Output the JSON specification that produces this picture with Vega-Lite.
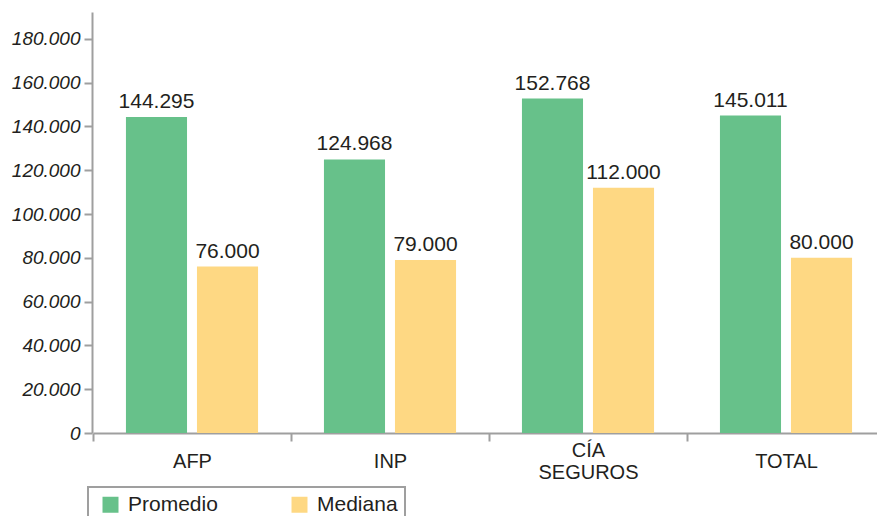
{
  "$schema": "https://vega.github.io/schema/vega-lite/v6.json",
  "autosize": "none",
  "width": 785,
  "height": 421,
  "padding": {"left": 92, "top": 12, "right": 0, "bottom": 83},
  "background": "white",
  "data": {
    "values": [
      {"grupo": "AFP", "serie": "Promedio", "monto": 144295, "etiqueta": "144.295"},
      {"grupo": "AFP", "serie": "Mediana", "monto": 76000, "etiqueta": "76.000"},
      {"grupo": "INP", "serie": "Promedio", "monto": 124968, "etiqueta": "124.968"},
      {"grupo": "INP", "serie": "Mediana", "monto": 79000, "etiqueta": "79.000"},
      {"grupo": "CÍA SEGUROS", "serie": "Promedio", "monto": 152768, "etiqueta": "152.768"},
      {"grupo": "CÍA SEGUROS", "serie": "Mediana", "monto": 112000, "etiqueta": "112.000"},
      {"grupo": "TOTAL", "serie": "Promedio", "monto": 145011, "etiqueta": "145.011"},
      {"grupo": "TOTAL", "serie": "Mediana", "monto": 80000, "etiqueta": "80.000"}
    ]
  },
  "encoding": {
    "x": {
      "field": "grupo",
      "type": "nominal",
      "sort": ["AFP", "INP", "CÍA SEGUROS", "TOTAL"],
      "scale": {"range": [1, 793], "paddingInner": 0, "paddingOuter": 0},
      "axis": {
        "title": null,
        "labelAngle": 0,
        "labelExpr": "indexof(datum.label, ' ') > 0 ? [split(datum.label, ' ')[0], '\u200b', split(datum.label, ' ')[1]] : ['\u200b', datum.label]",
        "labelBaseline": "middle",
        "labelLineHeight": 11,
        "labelPadding": 9,
        "labelFontSize": 20,
        "labelColor": "#231f20",
        "labelFont": "Liberation Sans",
        "tickBand": "extent",
        "tickSize": 8,
        "tickWidth": 2,
        "tickColor": "#9f9f9f",
        "domainColor": "#9f9f9f",
        "domainWidth": 2
      }
    },
    "xOffset": {
      "field": "serie",
      "type": "nominal",
      "sort": ["Promedio", "Mediana"],
      "scale": {"paddingInner": 0.14, "paddingOuter": 0.464}
    },
    "y": {
      "field": "monto",
      "type": "quantitative",
      "scale": {"domain": [0, 192300], "nice": false},
      "axis": {
        "title": null,
        "values": [0, 20000, 40000, 60000, 80000, 100000, 120000, 140000, 160000, 180000],
        "labelExpr": "replace(format(datum.value, ','), ',', '.')",
        "labelFont": "Liberation Sans",
        "labelFontStyle": "italic",
        "labelFontSize": 19,
        "labelColor": "#231f20",
        "labelPadding": 4,
        "grid": false,
        "tickSize": 8,
        "tickWidth": 2,
        "tickColor": "#9f9f9f",
        "domainColor": "#9f9f9f",
        "domainWidth": 2
      }
    }
  },
  "layer": [
    {
      "mark": {"type": "bar"},
      "encoding": {
        "color": {
          "field": "serie",
          "type": "nominal",
          "sort": ["Promedio", "Mediana"],
          "scale": {"domain": ["Promedio", "Mediana"], "range": ["#67c18a", "#fed883"]},
          "legend": {
            "title": null,
            "orient": "none",
            "direction": "horizontal",
            "columns": 2,
            "legendX": -4,
            "legendY": 475,
            "padding": 7,
            "symbolOffset": 5,
            "symbolType": "square",
            "symbolSize": 256,
            "symbolStrokeWidth": 0,
            "labelOffset": 7,
            "labelFontSize": 21,
            "labelFont": "Liberation Sans",
            "labelColor": "#231f20",
            "columnPadding": 66,
            "strokeColor": "#9f9f9f"
          }
        }
      }
    },
    {
      "mark": {"type": "text", "baseline": "bottom", "dy": -5, "fontSize": 21, "font": "Liberation Sans", "color": "#231f20"},
      "encoding": {"text": {"field": "etiqueta"}}
    }
  ],
  "config": {
    "view": {"stroke": null},
    "legend": {"strokeWidth": 2}
  }
}
